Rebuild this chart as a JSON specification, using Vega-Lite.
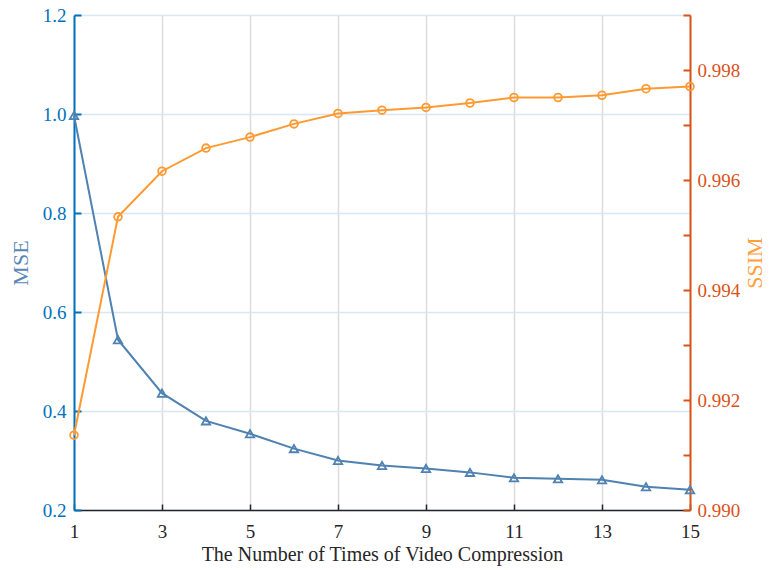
{
  "$schema": "https://vega.github.io/schema/vega-lite/v6.json",
  "width": 616,
  "height": 495,
  "autosize": {"type": "none"},
  "padding": {"left": 74, "top": 15, "right": 82, "bottom": 60},
  "background": "white",
  "config": {
    "view": {"stroke": null},
    "font": "Liberation Serif",
    "axis": {"labelFont": "Liberation Serif", "titleFont": "Liberation Serif", "titleFontWeight": "normal"}
  },
  "data": {
    "values": [
      {"n": 1, "mse": 0.997, "ssim": 0.99136},
      {"n": 2, "mse": 0.544, "ssim": 0.99533},
      {"n": 3, "mse": 0.436, "ssim": 0.99616},
      {"n": 4, "mse": 0.380, "ssim": 0.99658},
      {"n": 5, "mse": 0.354, "ssim": 0.99678},
      {"n": 6, "mse": 0.324, "ssim": 0.99702},
      {"n": 7, "mse": 0.300, "ssim": 0.99721},
      {"n": 8, "mse": 0.290, "ssim": 0.99727},
      {"n": 9, "mse": 0.284, "ssim": 0.99732},
      {"n": 10, "mse": 0.276, "ssim": 0.99740},
      {"n": 11, "mse": 0.265, "ssim": 0.99750},
      {"n": 12, "mse": 0.263, "ssim": 0.99750},
      {"n": 13, "mse": 0.261, "ssim": 0.99754},
      {"n": 14, "mse": 0.247, "ssim": 0.99766},
      {"n": 15, "mse": 0.241, "ssim": 0.99770}
    ]
  },
  "encoding": {
    "x": {
      "field": "n", "type": "quantitative",
      "scale": {"domain": [1, 15], "nice": false, "zero": false},
      "axis": {
        "title": "The Number of Times of Video Compression",
        "values": [1, 3, 5, 7, 9, 11, 13, 15],
        "format": "d",
        "labelFlush": false, "labelBound": false, "labelOverlap": false,
        "grid": true, "gridColor": "#dcdcdc", "gridWidth": 1.5,
        "domainColor": "#262626", "domainWidth": 1.5,
        "tickColor": "#262626", "tickSize": -6, "tickWidth": 1.5,
        "labelPadding": 18, "labelFontSize": 19, "labelColor": "#262626", "labelFont": "Liberation Serif",
        "titleFontSize": 20, "titleColor": "#262626", "titlePadding": 3, "titleFont": "Liberation Serif"
      }
    }
  },
  "layer": [
    {
      "mark": {"type": "line", "color": "#4f82b2", "strokeWidth": 2,
        "point": {"shape": "triangle-up", "filled": false, "size": 70, "strokeWidth": 1.8, "color": "#4f82b2"}},
      "encoding": {
        "y": {
          "field": "mse", "type": "quantitative",
          "scale": {"domain": [0.2, 1.2], "nice": false, "zero": false},
          "axis": {
            "title": "MSE", "orient": "left",
            "values": [0.2, 0.4, 0.6, 0.8, 1.0, 1.2],
            "format": ".1f",
            "labelFlush": false, "labelBound": false, "labelOverlap": false,
            "grid": true, "gridColor": "#d8e7f3", "gridWidth": 1.5,
            "domainColor": "#0072BD", "domainWidth": 2,
            "tickColor": "#0072BD", "tickSize": -7, "tickWidth": 2,
            "labelPadding": 15, "labelFontSize": 19, "labelColor": "#0072BD", "labelFont": "Liberation Serif",
            "titleFontSize": 22, "titleColor": "#5a88b6", "titlePadding": 10, "titleFont": "Liberation Serif"
          }
        }
      }
    },
    {
      "mark": {"type": "line", "color": "#ff9a33", "strokeWidth": 2,
        "point": {"shape": "circle", "filled": false, "size": 60, "strokeWidth": 1.8, "color": "#ff9a33"}},
      "encoding": {
        "y": {
          "field": "ssim", "type": "quantitative",
          "scale": {"domain": [0.990, 0.999], "nice": false, "zero": false},
          "axis": {
            "title": "SSIM", "orient": "right",
            "values": [0.990, 0.991, 0.992, 0.993, 0.994, 0.995, 0.996, 0.997, 0.998, 0.999],
            "labelExpr": "(round(datum.value*1000) % 2 == 0) ? format(datum.value, '.3f') : ''",
            "labelFlush": false, "labelBound": false, "labelOverlap": false,
            "grid": false,
            "domainColor": "#D95319", "domainWidth": 2,
            "tickColor": "#D95319", "tickSize": -7, "tickWidth": 2,
            "labelPadding": 14, "labelFontSize": 19, "labelColor": "#D95319", "labelFont": "Liberation Serif",
            "titleFontSize": 22, "titleColor": "#ffa040", "titlePadding": 27, "titleAngle": 270, "titleFont": "Liberation Serif"
          }
        }
      }
    }
  ],
  "resolve": {"scale": {"y": "independent"}}
}
